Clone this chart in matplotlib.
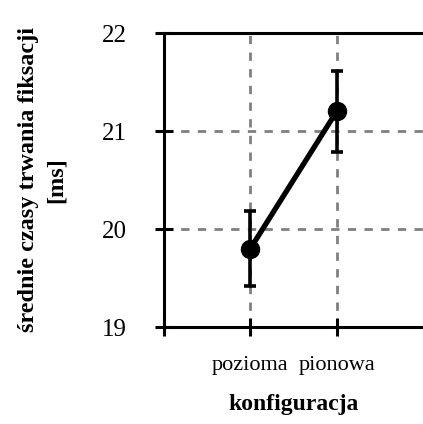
import numpy as np
import matplotlib.pyplot as plt

# Data
categories = ['pozioma', 'pionowa']
means = [19.8, 21.2]
errors = [0.38, 0.41]
y_ticks = [19, 20, 21, 22]

plt.rcParams['font.family'] = ['Liberation Serif', 'DejaVu Serif']

fig = plt.figure(figsize=(4.23, 4.24), dpi=100)
ax = fig.add_axes([164 / 423, 97 / 424, 259 / 423, 294 / 424])

x = np.arange(1, len(categories) + 1)
ax.errorbar(x, means, yerr=errors, color='black', lw=3.8, marker='o', ms=13,
            elinewidth=2.6, capsize=4.5, capthick=2.6, zorder=3)

ax.set_xlim(0, 3)
ax.set_ylim(19, 22)
ax.set_yticks(y_ticks)
ax.set_xticks([0, 1, 2])
ax.set_xticklabels([''] + categories)

ax.grid(True, color='#808080', ls=(0, (3, 3)), lw=2)
ax.set_axisbelow(True)

for side in ['left', 'bottom', 'top']:
    ax.spines[side].set_linewidth(2.2)
ax.spines['right'].set_visible(False)

ax.tick_params(axis='both', direction='inout', length=13.5, width=2.2,
               colors='black')
ax.tick_params(axis='y', labelsize=18, pad=20)
ax.tick_params(axis='x', labelsize=16, pad=14)

ax.set_xlabel('konfiguracja', fontsize=17, fontweight='bold', labelpad=14)
ax.set_ylabel('średnie czasy trwania fiksacji\n[ms]', fontsize=17.5,
              fontweight='bold', labelpad=25, linespacing=1.45)

fig.savefig('out.png', dpi=100)
